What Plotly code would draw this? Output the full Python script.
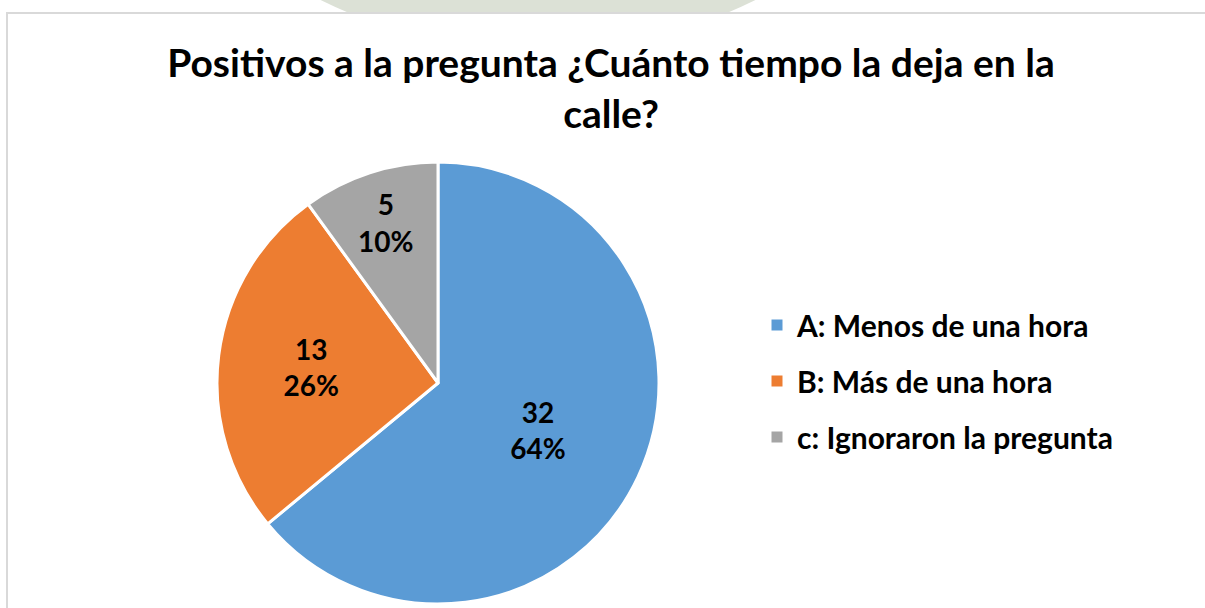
import plotly.graph_objects as go

labels = ["A: Menos de una hora", "B: Más de una hora", "c: Ignoraron la pregunta"]
values = [32, 13, 5]
colors = ["#5B9BD5", "#ED7D31", "#A5A5A5"]

title_text = "Positivos a la pregunta ¿Cuánto tiempo la deja en la<br>calle?"
font_family = "Lato, 'Open Sans', sans-serif"

W, H = 1205, 608

fig = go.Figure()

fig.add_trace(
    go.Pie(
        labels=labels,
        values=values,
        marker=dict(colors=colors, line=dict(color="white", width=3)),
        sort=False,
        direction="clockwise",
        rotation=0,
        texttemplate="%{value}<br>%{percent:.0%}",
        textposition="inside",
        insidetextorientation="horizontal",
        textfont=dict(family=font_family, size=28, color="black", weight="bold"),
        domain=dict(x=[217 / W, 659 / W], y=[4 / H, 446 / H]),
        showlegend=False,
        hoverinfo="label+value+percent",
    )
)

# legend entries as separate groups so the row spacing can be set
for name, color in zip(labels, colors):
    fig.add_trace(
        go.Scatter(
            x=[None],
            y=[None],
            mode="markers",
            marker=dict(symbol="square", size=11, color=color),
            name=name,
            legendgroup=name,
            showlegend=True,
        )
    )

fig.update_layout(
    width=W,
    height=H,
    margin=dict(l=0, r=0, t=0, b=0),
    paper_bgcolor="white",
    plot_bgcolor="white",
    xaxis=dict(visible=False),
    yaxis=dict(visible=False),
    title=dict(
        text=title_text,
        x=611 / W,
        xanchor="center",
        y=1 - 77 / H,
        yanchor="top",
        font=dict(family=font_family, size=39, color="black", weight="bold"),
    ),
    legend=dict(
        x=757 / W,
        y=1 - 381 / H,
        xanchor="left",
        yanchor="middle",
        font=dict(family=font_family, size=30, color="black", weight="bold"),
        tracegroupgap=14,
        bgcolor="rgba(0,0,0,0)",
        itemclick=False,
    ),
    shapes=[
        # faint watermark above the chart frame
        dict(
            type="circle",
            xref="paper",
            yref="paper",
            x0=(538 - 489) / W,
            x1=(538 + 489) / W,
            y0=1 - 51 / H,
            y1=1 + 927 / H,
            fillcolor="#dce1d6",
            line=dict(width=0),
            layer="below",
        ),
        # chart frame
        dict(
            type="rect",
            xref="paper",
            yref="paper",
            x0=7 / W,
            x1=1.02,
            y0=-0.02,
            y1=1 - 13 / H,
            fillcolor="white",
            line=dict(color="#d9d9d9", width=2),
            layer="below",
        ),
    ],
)

fig.write_html(
    "out.html",
    config={"displayModeBar": False},
    post_script="document.body.style.margin='0';document.body.style.overflow='hidden';",
)
